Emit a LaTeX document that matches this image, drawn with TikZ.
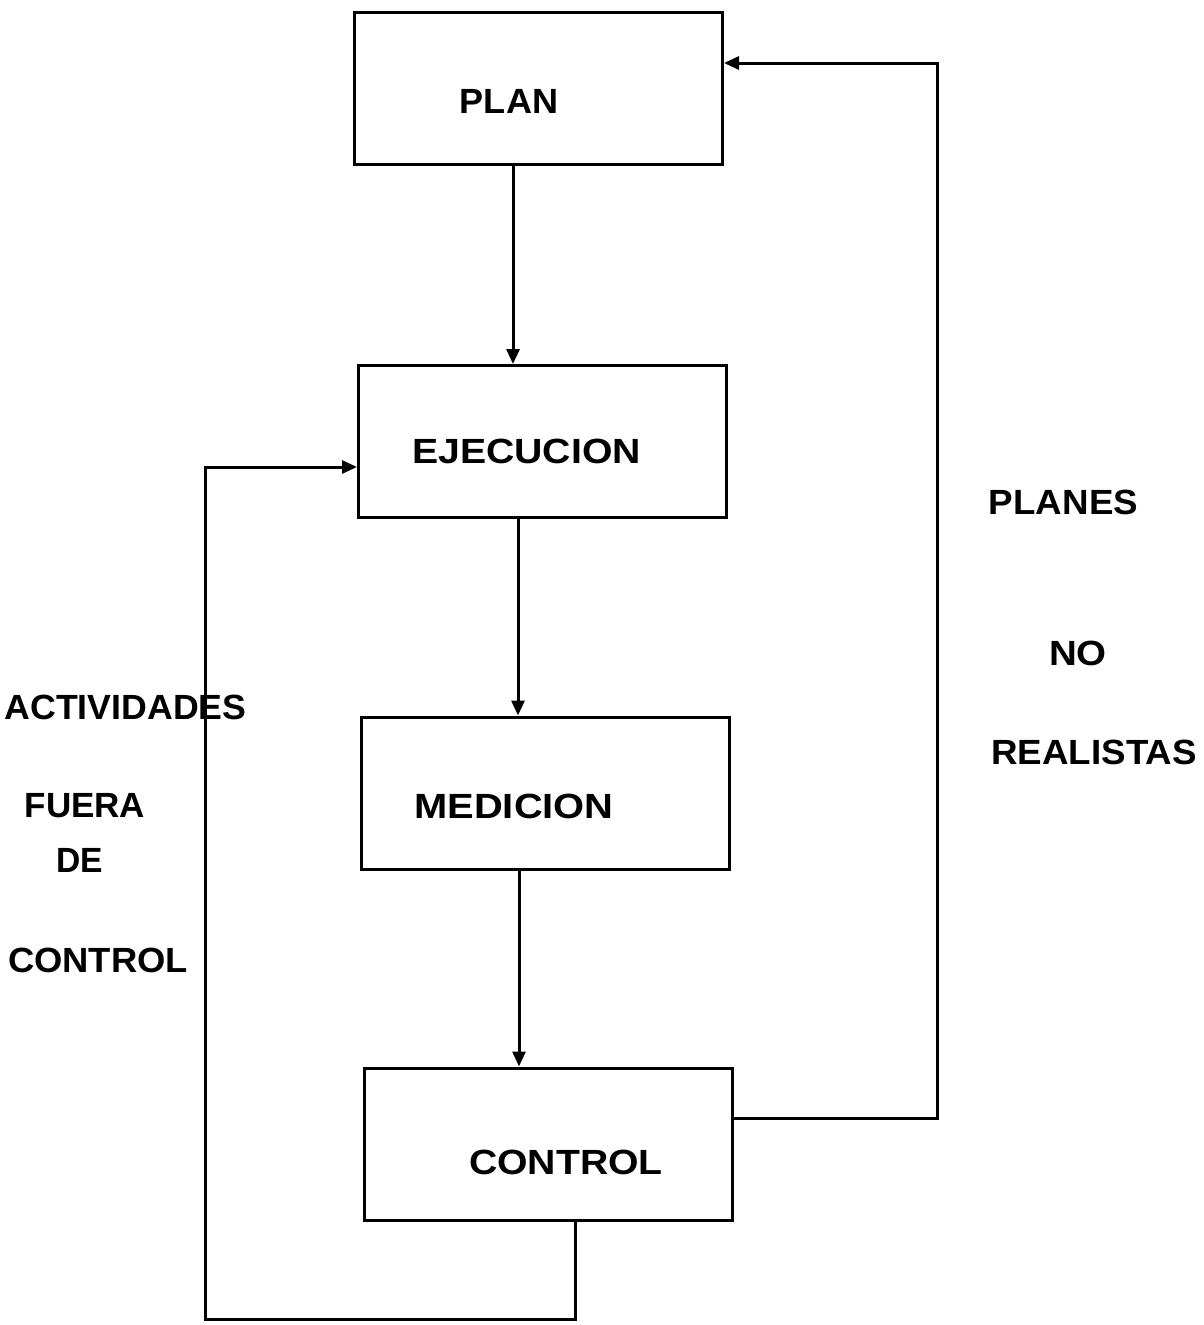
\documentclass[tikz,border=0pt]{standalone}
\usepackage{graphicx}
\usepackage{fontspec}
\setmainfont{Liberation Sans}
\usetikzlibrary{arrows.meta}
% horizontally widened caption text
\newcommand{\widetext}[2]{\scalebox{#1}[1]{#2}}
\begin{document}
\begin{tikzpicture}[x=1pt,y=-1pt,
  every node/.style={inner sep=0pt},
  stage/.style={draw,line width=3pt,minimum width=368pt,minimum height=152pt},
  label/.style={font=\bfseries\fontsize{35}{35}\selectfont},
  link/.style={line width=3pt},
  arr/.style={link,-{Triangle[length=15pt,width=13pt]}}]
  \useasboundingbox (0,0) rectangle (1204,1325);
  % process boxes
  \node[stage] (plan) at (538.5,88.5) {};
  \node[stage] (ejec) at (542.5,441.5) {};
  \node[stage] (medi) at (545.5,793) {};
  \node[stage] (ctrl) at (548,1144) {};
  % box captions
  \node[label] (tplan) at (509,101) {\widetext{1.03}{PLAN}};
  \node[label] (tejec) at (526.5,451) {\widetext{1.12}{EJECUCION}};
  \node[label] (tmedi) at (514,806) {\widetext{1.14}{MEDICION}};
  \node[label] (tctrl) at (566,1162) {\widetext{1.12}{CONTROL}};
  % side captions
  \node[label] (a1) at (125.5,707) {\widetext{1.02}{ACTIVIDADES}};
  \node[label] (a2) at (85,806) {FUERA};
  \node[label] (a3) at (80,860) {\widetext{0.96}{DE}};
  \node[label] (a4) at (98,960) {\widetext{1.04}{CONTROL}};
  \node[label] (b1) at (1063.5,502) {\widetext{1.05}{PLANES}};
  \node[label] (b2) at (1078,653) {\widetext{1.1}{NO}};
  \node[label] (b3) at (1094,752) {\widetext{1.05}{REALISTAS}};
  % main flow
  \draw[arr] (513,0 |- plan.south) -- (513,0 |- ejec.north);
  \draw[arr] (518,0 |- ejec.south) -- (518,0 |- medi.north);
  \draw[arr] (519,0 |- medi.south) -- (519,0 |- ctrl.north);
  % feedback to the plan
  \coordinate (r1) at (937,1118);
  \coordinate (r2) at (937,63);
  \draw[arr] (ctrl.east |- r1) -- (r1) -- (r2) -- (plan.east |- r2);
  % feedback to the execution
  \coordinate (l1) at (575,1319);
  \coordinate (l2) at (205,1319);
  \coordinate (l3) at (205,467);
  \draw[arr] (l1 |- ctrl.south) -- (l1) -- (l2) -- (l3) -- (ejec.west |- l3);
\end{tikzpicture}
\end{document}
